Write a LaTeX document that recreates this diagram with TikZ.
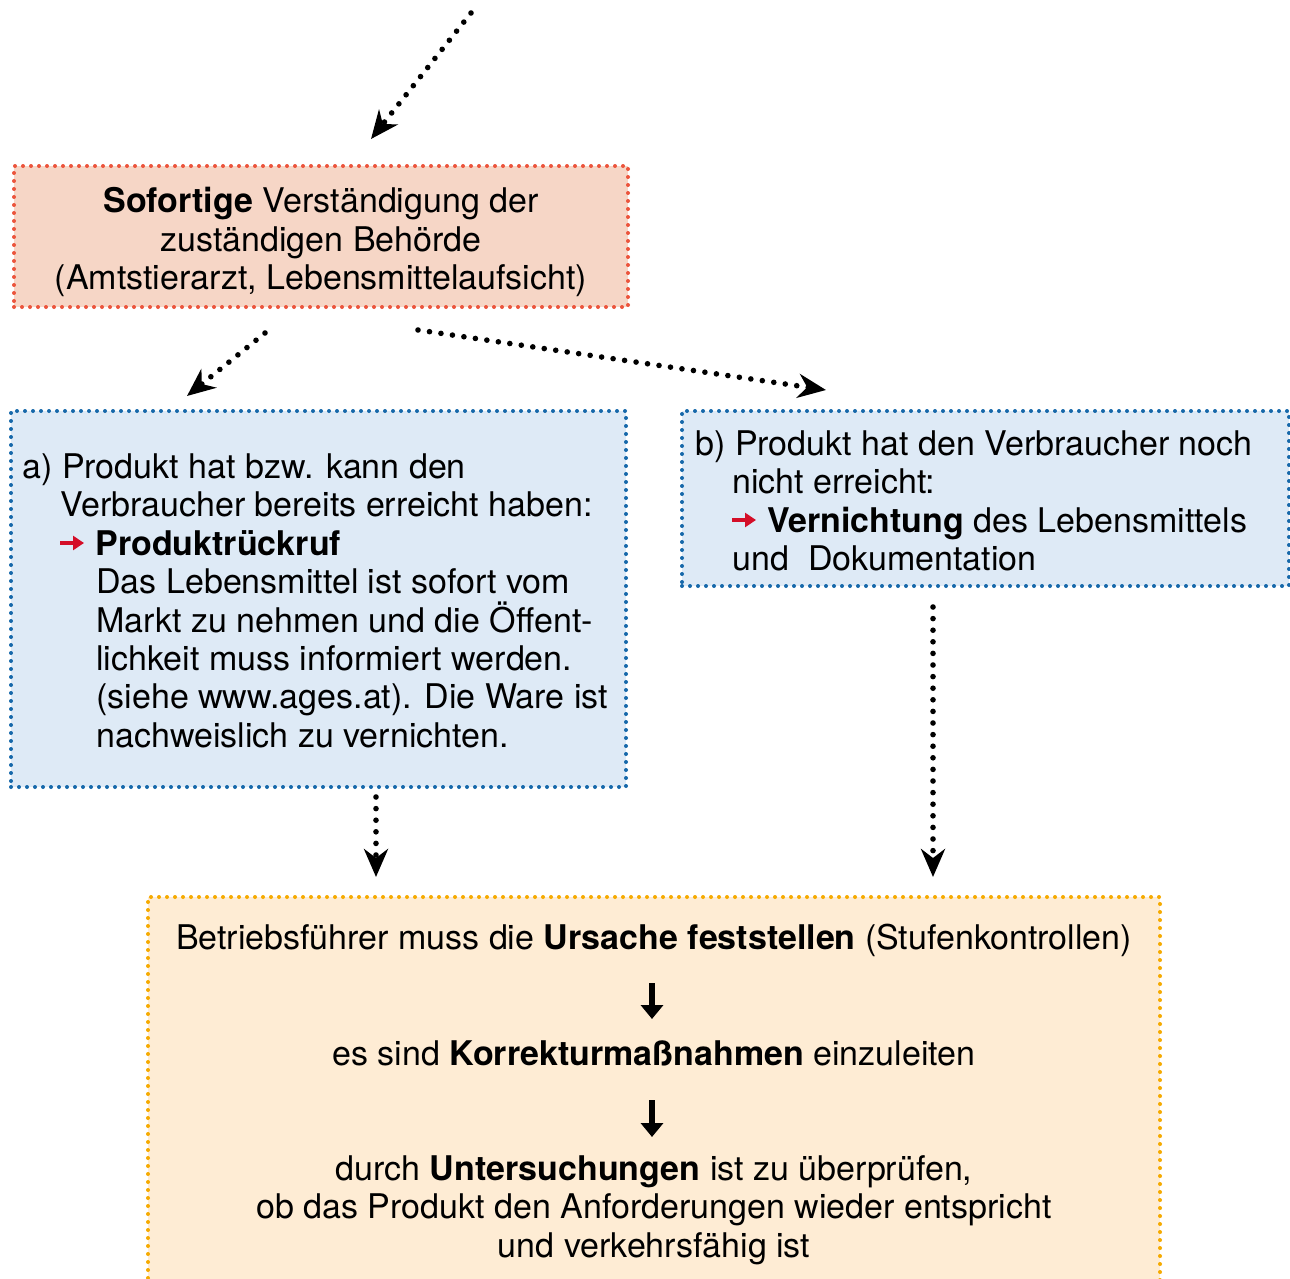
\documentclass[tikz,border=0pt]{standalone}
\usepackage{fontspec}
\setmainfont{TeX Gyre Heros}
\usetikzlibrary{arrows.meta}
\definecolor{redfill}{RGB}{246,214,198}
\definecolor{redbd}{RGB}{236,84,60}
\definecolor{bluefill}{RGB}{222,234,246}
\definecolor{bluebd}{RGB}{22,104,170}
\definecolor{orfill}{RGB}{254,236,212}
\definecolor{orbd}{RGB}{246,170,0}
\definecolor{arrred}{RGB}{212,14,40}
\begin{document}
\begin{tikzpicture}[x=0.5pt,y=-0.5pt,
  txt/.style={inner sep=0pt, font=\fontsize{17}{19.25}\selectfont},
  boxbase/.style={rectangle, inner sep=0pt, line width=2pt, dash pattern=on 0pt off 4pt, line cap=round},
  redbox/.style={boxbase, draw=redbd, fill=redfill},
  bluebox/.style={boxbase, draw=bluebd, fill=bluefill},
  orbox/.style={boxbase, draw=orbd, fill=orfill},
  conn/.style={line width=2.8pt, dash pattern=on 0pt off 5.8pt, line cap=round, -{Stealth[length=14pt,width=12pt,inset=4.5pt]}},
  downarr/.style={line width=3pt, -{Triangle[length=7pt,width=11pt]}},
  redarr/.style={arrred, line width=2pt, -{Triangle[length=5.5pt,width=7pt]}}
]
\clip (0,0) rectangle (1290,1279);
\fill[white] (0,0) rectangle (1290,1279);

% boxes
\node[redbox, minimum width=307pt, minimum height=70.5pt] (box1) at (321,236.5) {};
\node[bluebox, minimum width=307.5pt, minimum height=188pt] (boxa) at (318.5,599) {};
\node[bluebox, minimum width=303.5pt, minimum height=87.5pt] (boxb) at (985.5,498.5) {};
\node[orbox, minimum width=506pt, minimum height=201.5pt] (boxc) at (654,1098.5) {};

% box 1 text
\node[txt, anchor=base] (t11) at (321,213) {\textbf{Sofortige} Verständigung der};
\node[txt, anchor=base] (t12) at (321,251) {zuständigen Behörde};
\node[txt, anchor=base] (t13) at (321,289) {(Amtstierarzt, Lebensmittelaufsicht)};

% box a text
\node[txt, anchor=base west] (ta1) at (22,478) {a) Produkt hat bzw. kann den};
\node[txt, anchor=base west] (ta2) at (60,516) {Verbraucher bereits erreicht haben:};
\coordinate (ra1) at (60,543);
\coordinate (ra2) at (84,543);
\draw[redarr] (ra1) -- (ra2);
\node[txt, anchor=base west] (ta3) at (95,555) {\textbf{Produktrückruf}};
\node[txt, anchor=base west] (ta4) at (96,593) {Das Lebensmittel ist sofort vom};
\node[txt, anchor=base west] (ta5) at (96,632) {Markt zu nehmen und die Öffent-};
\node[txt, anchor=base west] (ta6) at (96,670) {lichkeit muss informiert werden.};
\node[txt, anchor=base west] (ta7) at (96,708) {(siehe www.ages.at). Die Ware ist};
\node[txt, anchor=base west] (ta8) at (96,747) {nachweislich zu vernichten.};

% box b text
\node[txt, anchor=base west] (tb1) at (695,455) {b) Produkt hat den Verbraucher noch};
\node[txt, anchor=base west] (tb2) at (732,493) {nicht erreicht:};
\coordinate (rb1) at (732,520);
\coordinate (rb2) at (756,520);
\draw[redarr] (rb1) -- (rb2);
\node[txt, anchor=base west] (tb3) at (767,532) {\textbf{Vernichtung} des Lebensmittels};
\node[txt, anchor=base west] (tb4) at (732,570) {und\ \ Dokumentation};

% box c text
\node[txt, anchor=base] (tc1) at (654,949) {Betriebsführer muss die \textbf{Ursache feststellen} (Stufenkontrollen)};
\node[txt, anchor=base] (tc2) at (654,1065) {es sind \textbf{Korrekturmaßnahmen} einzuleiten};
\node[txt, anchor=base] (tc3) at (654,1180) {durch \textbf{Untersuchungen} ist zu überprüfen,};
\node[txt, anchor=base] (tc4) at (654,1218) {ob das Produkt den Anforderungen wieder entspricht};
\node[txt, anchor=base] (tc5) at (654,1257) {und verkehrsfähig ist};

\coordinate (d1s) at (652,983);
\coordinate (d1e) at (652,1019);
\coordinate (d2s) at (652,1100);
\coordinate (d2e) at (652,1137);
\draw[downarr] (d1s) -- (d1e);
\draw[downarr] (d2s) -- (d2e);

% connectors
\coordinate (c0s) at (471,13);
\coordinate (c0e) at (371,139);
\coordinate (c1s) at (265,333);
\coordinate (c1e) at (187,396);
\coordinate (c2s) at (418,330);
\coordinate (c2e) at (826,390);
\coordinate (c3s) at (376,797);
\coordinate (c3e) at (376,877);
\coordinate (c4s) at (933,607);
\coordinate (c4e) at (933,877);
\draw[conn] (c0s) -- (c0e);
\draw[conn] (c1s) -- (c1e);
\draw[conn] (c2s) -- (c2e);
\draw[conn] (c3s) -- (c3e);
\draw[conn] (c4s) -- (c4e);
\end{tikzpicture}
\end{document}
